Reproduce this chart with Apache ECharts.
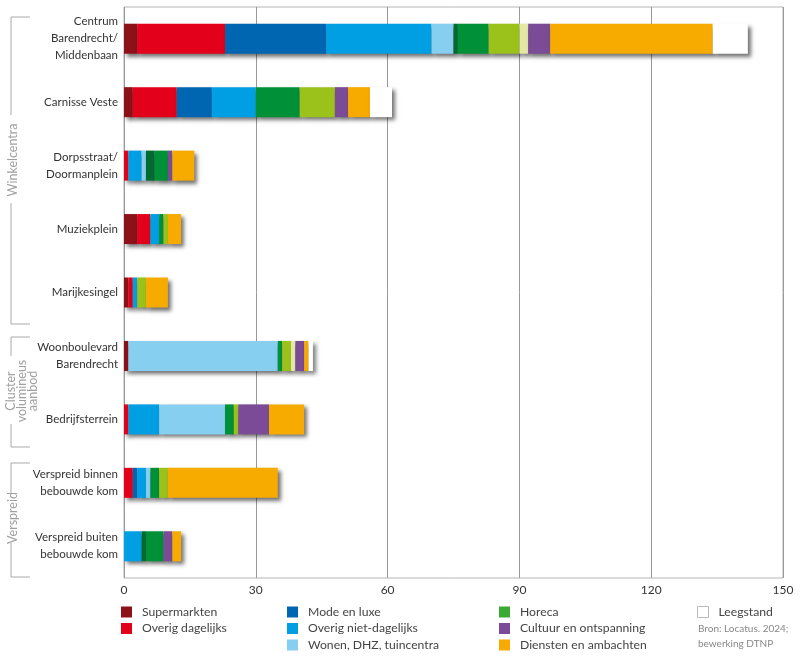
<!DOCTYPE html>
<html>
<head>
<meta charset="utf-8">
<script src="https://cdn.jsdelivr.net/npm/echarts@6/dist/echarts.min.js"></script>
<style>
  html, body { margin: 0; padding: 0; background: #fff; }
  #chart { width: 802px; height: 660px; }
</style>
</head>
<body>
<div id="chart"></div>
<script>
// categorieen van boven naar beneden
var categories = [
  'Centrum\nBarendrecht/\nMiddenbaan',
  'Carnisse Veste',
  'Dorpsstraat/\nDoormanplein',
  'Muziekplein',
  'Marijkesingel',
  'Woonboulevard\nBarendrecht',
  'Bedrijfsterrein',
  'Verspreid binnen\nbebouwde kom',
  'Verspreid buiten\nbebouwde kom'
];

// aantal verkooppunten per branchegroep
var supermarkten = [3, 2, 0, 3, 1, 1, 0, 0, 0];
var overigDagelijks = [20, 10, 1, 3, 1, 0, 1, 2, 0];
var modeLuxe = [23, 8, 0, 0, 0, 0, 0, 1, 0];
var overigNietDagelijks = [24, 10, 3, 2, 1, 0, 7, 2, 4];
var wonenDhz = [5, 0, 1, 0, 0, 34, 15, 1, 0];
var detailhandelOverig = [1, 0, 2, 0, 0, 0, 0, 0, 1];
var horeca = [7, 10, 3, 1, 0, 1, 2, 2, 4];
var leisure = [7, 8, 0, 1, 2, 2, 1, 2, 0];
var transport = [2, 0, 0, 0, 0, 1, 0, 0, 0];
var cultuur = [5, 3, 1, 0, 0, 2, 7, 0, 2];
var diensten = [37, 5, 5, 3, 5, 1, 8, 25, 2];
var leegstand = [8, 5, 0, 0, 0, 1, 0, 0, 0];

var xTicks = [0, 30, 60, 90, 120, 150];

(function () {
  var chart = echarts.init(document.getElementById('chart'));
  var font = 'Lato';

  var groups = [
    { name: 'Supermarkten', data: supermarkten, color: '#8c1118' },
    { name: 'Overig dagelijks', data: overigDagelijks, color: '#e2001a' },
    { name: 'Mode en luxe', data: modeLuxe, color: '#0066b1' },
    { name: 'Overig niet-dagelijks', data: overigNietDagelijks, color: '#009fe3' },
    { name: 'Wonen, DHZ, tuincentra', data: wonenDhz, color: '#86cff0' },
    { name: 'Detailhandel overig', data: detailhandelOverig, color: '#006a31' },
    { name: 'Horeca', data: horeca, color: '#009037' },
    { name: 'Leisure', data: leisure, color: '#9bc11b' },
    { name: 'Transport en brandstoffen', data: transport, color: '#e3e8a4' },
    { name: 'Cultuur en ontspanning', data: cultuur, color: '#7b4b97' },
    { name: 'Diensten en ambachten', data: diensten, color: '#f7ab00' },
    { name: 'Leegstand', data: leegstand, color: '#ffffff' }
  ];

  var series = groups.map(function (g) {
    return {
      name: g.name,
      type: 'bar',
      stack: 'totaal',
      barWidth: 30,
      data: g.data.map(function (v) { return v === 0 ? '-' : v; }),
      itemStyle: {
        color: g.color,
        shadowColor: 'rgba(0, 0, 0, 0.55)',
        shadowBlur: 4,
        shadowOffsetX: 3,
        shadowOffsetY: 3
      },
      emphasis: { disabled: true }
    };
  });

  var legendBase = {
    orient: 'vertical',
    top: 606,
    padding: 0,
    itemWidth: 11,
    itemHeight: 11,
    itemGap: 4.5,
    icon: 'rect',
    selectedMode: false,
    itemStyle: { shadowBlur: 0, shadowOffsetX: 0, shadowOffsetY: 0, shadowColor: 'transparent' },
    textStyle: { fontFamily: font, fontSize: 12.2, color: '#444', padding: [0, 0, 0, 5] }
  };

  function legend(left, data) {
    return Object.assign({}, legendBase, { left: left, data: data });
  }

  var lineStyle = { stroke: '#aaa', lineWidth: 1 };
  function seg(x1, y1, x2, y2) {
    return { type: 'line', silent: true, shape: { x1: x1, y1: y1, x2: x2, y2: y2 }, style: lineStyle };
  }
  function groupText(text, x, y) {
    return {
      type: 'text', silent: true, x: x, y: y, rotation: Math.PI / 2,
      style: {
        text: text, fill: '#a0a0a0', font: '12.5px ' + font,
        align: 'center', verticalAlign: 'middle', lineHeight: 11
      }
    };
  }

  var option = {
    animation: false,
    grid: {
      left: 124,
      right: 19,
      top: 7,
      bottom: 82,
      show: true,
      borderColor: '#b5b5b5',
      borderWidth: 1
    },
    xAxis: {
      type: 'value',
      min: xTicks[0],
      max: xTicks[xTicks.length - 1],
      interval: 30,
      axisLine: { show: false },
      axisTick: { show: false },
      splitLine: { lineStyle: { color: '#999', width: 1 } },
      axisLabel: { color: '#333', fontFamily: font, fontSize: 12, margin: 6 }
    },
    yAxis: {
      type: 'category',
      inverse: true,
      data: categories,
      axisLine: { show: false },
      axisTick: { show: false },
      axisLabel: { color: '#333', fontFamily: font, fontSize: 11.5, lineHeight: 17, margin: 6 }
    },
    legend: [
      legend(121, ['Supermarkten', 'Overig dagelijks']),
      legend(287, ['Mode en luxe', 'Overig niet-dagelijks', 'Wonen, DHZ, tuincentra']),
      legend(499, [{ name: 'Horeca', itemStyle: { color: '#3aaa35' } }, 'Cultuur en ontspanning', 'Diensten en ambachten']),
      legend(697, [{ name: 'Leegstand', itemStyle: { color: '#fff', borderColor: '#bbb', borderWidth: 1 } }])
    ],
    graphic: [
      // Winkelcentra
      seg(11, 17, 30, 17), seg(11, 17, 11, 115),
      seg(11, 203, 11, 324), seg(11, 324, 30, 324),
      groupText('Winkelcentra', 13, 160),
      // Cluster volumineus aanbod
      seg(11, 337, 30, 337), seg(11, 337, 11, 356),
      seg(11, 424, 11, 447), seg(11, 447, 30, 447),
      groupText('Cluster\nvolumineus\naanbod', 22, 391),
      // Verspreid
      seg(11, 463, 30, 463), seg(11, 463, 11, 494),
      seg(11, 543, 11, 577), seg(11, 577, 30, 577),
      groupText('Verspreid', 13, 518),
      {
        type: 'text', silent: true, x: 698, y: 621,
        style: { text: 'Bron: Locatus. 2024;\nbewerking DTNP', fill: '#888', font: '10px ' + font, lineHeight: 15 }
      }
    ],
    series: series
  };

  chart.setOption(option);
  window.addEventListener('resize', function () {
    chart.resize();
  });
})();
</script>
</body>
</html>
